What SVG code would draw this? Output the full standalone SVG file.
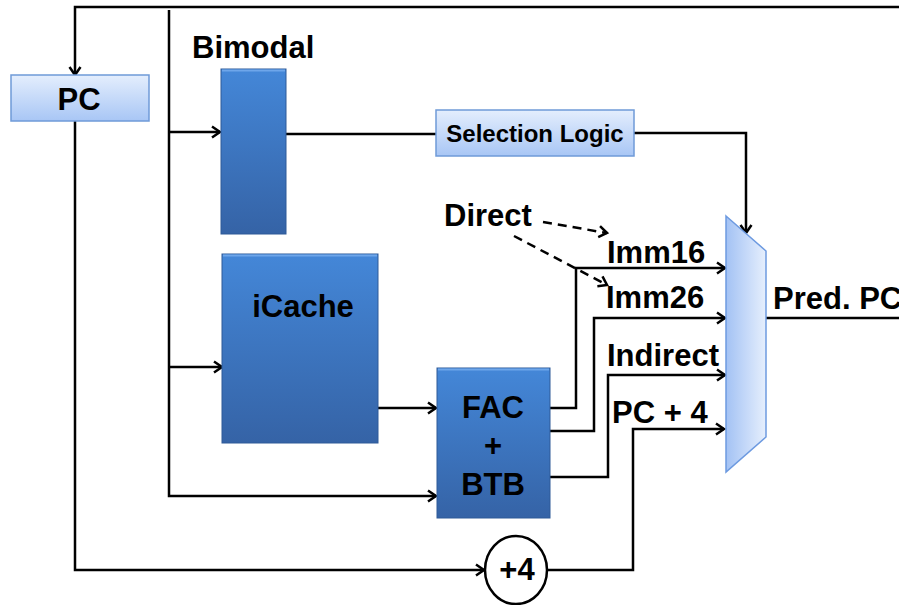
<svg xmlns="http://www.w3.org/2000/svg" width="899" height="605" viewBox="0 0 899 605">
  <defs>
    <linearGradient id="lightBlue" x1="0" y1="0" x2="0" y2="1">
      <stop offset="0" stop-color="#e4eefd"/>
      <stop offset="1" stop-color="#a8c6f5"/>
    </linearGradient>
    <linearGradient id="darkBlue" x1="0" y1="0" x2="0" y2="1">
      <stop offset="0" stop-color="#4487d8"/>
      <stop offset="1" stop-color="#3563a6"/>
    </linearGradient>
    <linearGradient id="muxFill" x1="0" y1="0" x2="1" y2="0">
      <stop offset="0" stop-color="#a3c2f4"/>
      <stop offset="1" stop-color="#e6effd"/>
    </linearGradient>
    <marker id="arrow" markerWidth="14" markerHeight="14" refX="10.5" refY="7" orient="auto" markerUnits="userSpaceOnUse">
      <path d="M2.5,1.5 L10.5,7 L2.5,12.5" fill="none" stroke="#000" stroke-width="2.5"/>
    </marker>
  </defs>
  <style>
    .wire{fill:none;stroke:#000;stroke-width:2.5}
    .dash{fill:none;stroke:#000;stroke-width:2.5;stroke-dasharray:9 6}
    .arr{marker-end:url(#arrow)}
    .lbl{font-family:"Liberation Sans",Arial,sans-serif;font-weight:bold;font-size:31px;fill:#000}
    .mid{text-anchor:middle}
    .small{font-size:24px}
    .light{fill:url(#lightBlue);stroke:#6f9ad8;stroke-width:1.5}
    .dark{fill:url(#darkBlue);stroke:#2f5a98;stroke-width:1}
    .bevel{fill:none;stroke:#6ea6ea;stroke-width:2}
  </style>

  <rect width="899" height="605" fill="#fff"/>

  <!-- wires -->
  <g id="connectors">
    <path class="wire arr" d="M899,7 H75 V75"/>
    <path class="wire arr" d="M75,121 V570 H484"/>
    <path class="wire arr" d="M169,10 V496 H436"/>
    <path class="wire arr" d="M169,132 H220"/>
    <path class="wire arr" d="M169,367 H222"/>
    <path class="wire" d="M286,134 H436"/>
    <path class="wire arr" d="M634,133 H746 V233"/>
    <path class="wire arr" d="M378,408 H436"/>
    <path class="wire arr" d="M550,408 H576 V268 H725"/>
    <path class="wire arr" d="M550,431 H594 V318 H725"/>
    <path class="wire arr" d="M550,477 H608 V375 H725"/>
    <path class="wire arr" d="M547,570 H633 V429 H724"/>
    <path class="wire" d="M766,318 H899"/>
    <path class="dash arr" d="M543,222 L607,233"/>
    <path class="dash arr" d="M514,236 L607,285"/>
  </g>

  <g id="pc">
    <rect class="light" x="11" y="75" width="138" height="46"/>
    <text class="lbl mid" x="79" y="110">PC</text>
  </g>

  <g id="bimodal">
    <text class="lbl" x="192" y="58">Bimodal</text>
    <rect class="dark" x="221" y="69" width="65" height="165"/>
    <line class="bevel" x1="222" y1="70.5" x2="285" y2="70.5"/>
  </g>

  <g id="selection-logic">
    <rect class="light" x="436" y="110" width="198" height="46"/>
    <text class="lbl mid small" x="535" y="142">Selection Logic</text>
  </g>

  <g id="icache">
    <rect class="dark" x="222" y="254" width="156" height="189"/>
    <line class="bevel" x1="223" y1="255.5" x2="377" y2="255.5"/>
    <text class="lbl mid" x="303" y="317">iCache</text>
  </g>

  <g id="fac-btb">
    <rect class="dark" x="437" y="368" width="113" height="150"/>
    <line class="bevel" x1="438" y1="369.5" x2="549" y2="369.5"/>
    <text class="lbl mid" x="493" y="418">FAC</text>
    <text class="lbl mid" x="493" y="456">+</text>
    <text class="lbl mid" x="493" y="495">BTB</text>
  </g>

  <g id="adder">
    <ellipse cx="516" cy="570" rx="31" ry="34" fill="#fff" stroke="#000" stroke-width="2.5"/>
    <text class="lbl mid" x="517" y="580">+4</text>
  </g>

  <g id="mux">
    <polygon points="726,216 766,251 766,437 726,472" fill="url(#muxFill)" stroke="#6d9ae0" stroke-width="1.5"/>
  </g>

  <g id="labels">
    <text class="lbl" x="444" y="226">Direct</text>
    <text class="lbl" x="607" y="263">Imm16</text>
    <text class="lbl" x="606" y="308">Imm26</text>
    <text class="lbl" x="607" y="366">Indirect</text>
    <text class="lbl" x="612" y="423">PC + 4</text>
    <text class="lbl" x="773" y="309">Pred. PC</text>
  </g>
</svg>
